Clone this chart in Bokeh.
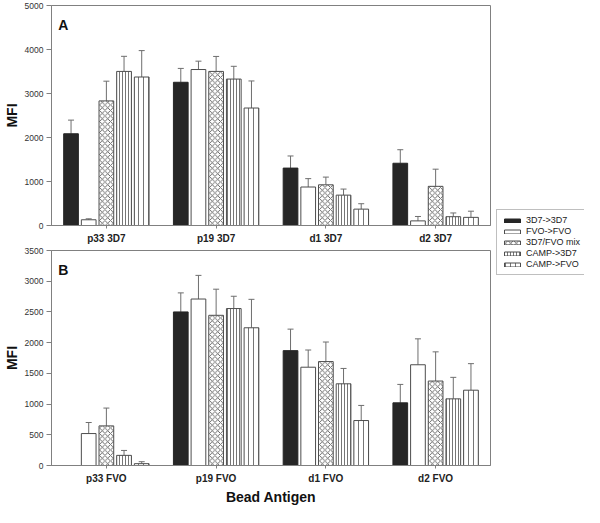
import numpy as np
from bokeh.plotting import figure
from bokeh.layouts import column, row
from bokeh.models import (FactorRange, Range1d, Legend, LegendItem, Label,
                          ColumnDataSource, FixedTicker)
from bokeh.transform import dodge
from bokeh.embed import file_html
from bokeh.resources import INLINE

nan = np.nan

series = ["3D7->3D7", "FVO->FVO", "3D7/FVO mix", "CAMP->3D7", "CAMP->FVO"]

# Panel A
cats_a = ["p33 3D7", "p19 3D7", "d1 3D7", "d2 3D7"]
a_3d7 = [2085, 3255, 1305, 1415]
a_3d7_err = [2395, 3570, 1580, 1722]
a_fvo = [130, 3545, 875, 105]
a_fvo_err = [152, 3735, 1065, 205]
a_mix = [2832, 3502, 925, 890]
a_mix_err = [3280, 3842, 1100, 1280]
a_c3d7 = [3502, 3328, 690, 200]
a_c3d7_err = [3845, 3618, 828, 285]
a_cfvo = [3375, 2670, 372, 185]
a_cfvo_err = [3975, 3285, 495, 325]

# Panel B
cats_b = ["p33 FVO", "p19 FVO", "d1 FVO", "d2 FVO"]
b_3d7 = [nan, 2500, 1870, 1020]
b_3d7_err = [nan, 2810, 2220, 1320]
b_fvo = [520, 2710, 1600, 1640]
b_fvo_err = [700, 3095, 1880, 2062]
b_mix = [645, 2445, 1692, 1375]
b_mix_err = [935, 2870, 2010, 1850]
b_c3d7 = [165, 2555, 1330, 1085]
b_c3d7_err = [245, 2755, 1580, 1435]
b_cfvo = [30, 2242, 732, 1226]
b_cfvo_err = [62, 2705, 978, 1658]

ticks_a = [0, 1000, 2000, 3000, 4000, 5000]
ticks_b = [0, 500, 1000, 1500, 2000, 2500, 3000, 3500]

FONT = "Liberation Sans"
GRAY = "#808080"
OUT = "#4d4d4d"

styles = [
    dict(fill_color="#262626", line_color="#262626"),
    dict(fill_color="white", line_color=OUT),
    dict(fill_color="white", line_color=OUT, hatch_pattern="diagonal_cross",
         hatch_scale=5.5, hatch_color="#555555", hatch_weight=0.9),
    dict(fill_color="white", line_color=OUT, hatch_pattern="vertical_line",
         hatch_scale=3, hatch_color="#666666", hatch_weight=0.9),
    dict(fill_color="white", line_color=OUT, hatch_pattern="vertical_line",
         hatch_scale=5, hatch_color="#666666", hatch_weight=0.9),
]
offsets = [-0.322, -0.161, 0.0, 0.161, 0.322]
BAR_W = 0.134


def make_panel(cats, vals, errs, ticks, letter, height, top_b, bot_b, xlabel=None):
    ymax = ticks[-1]
    p = figure(x_range=FactorRange(*cats), y_range=Range1d(0, ymax),
               width=492, height=height, output_backend="svg",
               toolbar_location=None, min_border_left=46, min_border_right=2,
               min_border_top=top_b, min_border_bottom=bot_b)
    p.xgrid.grid_line_color = None
    p.ygrid.grid_line_color = None
    p.outline_line_color = GRAY
    p.background_fill_color = "white"
    for i in range(len(series)):
        src = ColumnDataSource(dict(cat=cats, top=np.array(vals[i], dtype=float),
                                    err=np.array(errs[i], dtype=float)))
        xd = dodge("cat", offsets[i], range=p.x_range)
        p.segment(x0=xd, y0="top", x1=xd, y1="err", source=src,
                  line_color="#6e6e6e", line_width=1)
        p.scatter(x=xd, y="err", marker="dash", size=6, source=src,
                  line_color="#6e6e6e", line_width=1)
        p.vbar(x=xd, top="top", bottom=0, width=BAR_W, source=src,
               line_width=1, **styles[i])
    ya = p.yaxis[0]
    ya.ticker = FixedTicker(ticks=ticks)
    ya.minor_tick_line_color = None
    ya.major_tick_out = 5
    ya.major_tick_in = 0
    ya.major_tick_line_color = GRAY
    ya.axis_line_color = GRAY
    ya.major_label_standoff = 3
    ya.major_label_text_font = FONT
    ya.major_label_text_font_size = "8.5px"
    ya.major_label_text_color = "#333333"
    ya.axis_label = "MFI"
    ya.axis_label_text_font = FONT
    ya.axis_label_text_font_style = "bold"
    ya.axis_label_text_font_size = "14px"
    ya.axis_label_text_color = "#111111"
    ya.axis_label_standoff = 2
    xa = p.xaxis[0]
    xa.major_tick_out = 3
    xa.major_tick_in = 0
    xa.major_tick_line_color = GRAY
    xa.axis_line_color = GRAY
    xa.minor_tick_line_color = None
    xa.major_label_standoff = 4
    xa.major_label_text_font = FONT
    xa.major_label_text_font_style = "bold"
    xa.major_label_text_font_size = "10px"
    xa.major_label_text_color = "#222222"
    if xlabel:
        xa.axis_label = xlabel
        xa.axis_label_text_font = FONT
        xa.axis_label_text_font_style = "bold"
        xa.axis_label_text_font_size = "14px"
        xa.axis_label_text_color = "#111111"
        xa.axis_label_standoff = 2
    fh = height - top_b - bot_b
    p.add_layout(Label(x=0.062, y=ymax * (1 - 20.0 / fh), text=letter,
                       text_font=FONT, text_font_style="bold",
                       text_font_size="14px", text_color="#111111",
                       text_baseline="alphabetic"))
    return p


pa = make_panel(cats_a, [a_3d7, a_fvo, a_mix, a_c3d7, a_cfvo],
                [a_3d7_err, a_fvo_err, a_mix_err, a_c3d7_err, a_cfvo_err],
                ticks_a, "A", 246, 5, 20)
pb = make_panel(cats_b, [b_3d7, b_fvo, b_mix, b_c3d7, b_cfvo],
                [b_3d7_err, b_fvo_err, b_mix_err, b_c3d7_err, b_cfvo_err],
                ticks_b, "B", 261, 4, 37, xlabel="Bead Antigen")

lf = figure(width=92, height=507, x_range=Range1d(0, 1), y_range=Range1d(0, 1),
            x_axis_location=None, y_axis_location=None, min_border=0,
            output_backend="svg", toolbar_location=None)
lf.outline_line_color = None
lf.grid.visible = False
items = []
for i, s in enumerate(series):
    # one off-range dummy bar per series so that the legend swatch is drawn
    r = lf.vbar(x=[-5.0], top=[-5.0], bottom=[-6.0], width=0.1, line_width=1,
                **styles[i])
    items.append(LegendItem(label=s, renderers=[r]))
legend = Legend(items=items, location=(4, 232), glyph_width=20, glyph_height=5,
                label_height=9, label_standoff=4, spacing=1, padding=5,
                margin=0, label_text_font=FONT, label_text_font_size="9px",
                label_text_color="#222222", border_line_color=GRAY,
                border_line_width=1, background_fill_color="white")
lf.add_layout(legend)

layout = row(column(pa, pb), lf)
open("out.html", "w").write(file_html(layout, INLINE))
